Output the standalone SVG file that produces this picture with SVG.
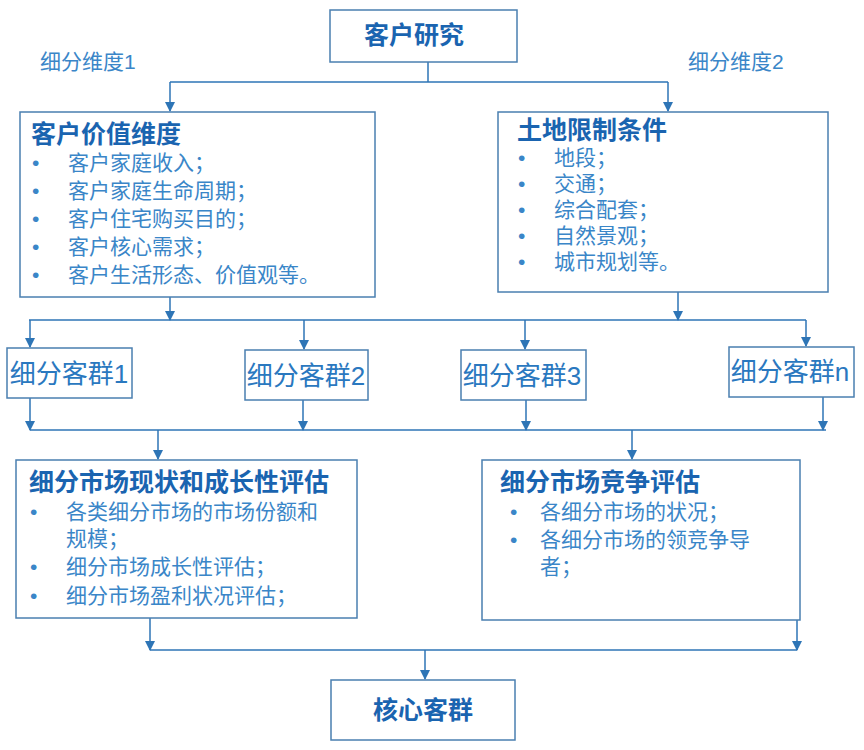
<svg xmlns="http://www.w3.org/2000/svg" width="864" height="750" viewBox="0 0 864 750">
<style>
.b{fill:#fff;stroke:#4a7fb0;stroke-width:1.5}
.t{font-family:"Liberation Sans","Noto Sans CJK SC",sans-serif;fill:#1f6bb5}
.h{font-weight:bold;font-size:25px;fill:#1a64b0}
.i{font-size:21px;fill:#3a86c8}
.s{font-size:26px;fill:#2a78bf}
.c{stroke:#2e75b6;stroke-width:1.5;fill:none}
</style>
<defs><marker id="a" markerWidth="10" markerHeight="10" refX="9" refY="5" orient="auto" markerUnits="userSpaceOnUse"><path d="M0,0L10,5L0,10z" fill="#2e75b6"/></marker></defs>
<rect width="864" height="750" fill="#fff"/>
<g id="connectors">
<path class="c" d="M428,62V82M170,82H668"/>
<path class="c" d="M170,82V111" marker-end="url(#a)"/>
<path class="c" d="M668,82V111" marker-end="url(#a)"/>
<path class="c" d="M170,297V320" marker-end="url(#a)"/>
<path class="c" d="M678,292V320" marker-end="url(#a)"/>
<path class="c" d="M29,320H806"/>
<path class="c" d="M30,320V347" marker-end="url(#a)"/>
<path class="c" d="M304,320V349" marker-end="url(#a)"/>
<path class="c" d="M525,320V349" marker-end="url(#a)"/>
<path class="c" d="M806,320V346" marker-end="url(#a)"/>
<path class="c" d="M30,398V430" marker-end="url(#a)"/>
<path class="c" d="M303,400V430" marker-end="url(#a)"/>
<path class="c" d="M526,400V430" marker-end="url(#a)"/>
<path class="c" d="M823,397V430" marker-end="url(#a)"/>
<path class="c" d="M30,430H826"/>
<path class="c" d="M158,430V459" marker-end="url(#a)"/>
<path class="c" d="M632,430V459" marker-end="url(#a)"/>
<path class="c" d="M150,618V650" marker-end="url(#a)"/>
<path class="c" d="M797,620V650" marker-end="url(#a)"/>
<path class="c" d="M150,650H797"/>
<path class="c" d="M425,650V679" marker-end="url(#a)"/>
</g>
<text class="t i" x="40" y="69">细分维度1</text>
<text class="t i" x="688" y="69">细分维度2</text>
<g id="n0"><rect class="b" x="330" y="10" width="187" height="52"/><text class="t h" x="414" y="44" text-anchor="middle">客户研究</text></g>
<g id="n1"><rect class="b" x="20" y="112" width="355" height="185"/>
<text class="t h" x="31" y="143">客户价值维度</text>
<g class="t i"><text x="32" y="170">•</text><text x="68" y="170">客户家庭收入；</text>
<text x="32" y="198">•</text><text x="68" y="198">客户家庭生命周期；</text>
<text x="32" y="226">•</text><text x="68" y="226">客户住宅购买目的；</text>
<text x="32" y="254">•</text><text x="68" y="254">客户核心需求；</text>
<text x="32" y="282">•</text><text x="68" y="282">客户生活形态、价值观等。</text></g></g>
<g id="n2"><rect class="b" x="498" y="112" width="330" height="180"/>
<text class="t h" x="517" y="139">土地限制条件</text>
<g class="t i"><text x="518" y="165">•</text><text x="554" y="165">地段；</text>
<text x="518" y="191">•</text><text x="554" y="191">交通；</text>
<text x="518" y="217">•</text><text x="554" y="217">综合配套；</text>
<text x="518" y="243">•</text><text x="554" y="243">自然景观；</text>
<text x="518" y="269">•</text><text x="554" y="269">城市规划等。</text></g></g>
<g id="s1"><rect class="b" x="7" y="348" width="125" height="50"/><text class="t s" x="69" y="383" text-anchor="middle">细分客群1</text></g>
<g id="s2"><rect class="b" x="245" y="350" width="123" height="50"/><text class="t s" x="306" y="385" text-anchor="middle">细分客群2</text></g>
<g id="s3"><rect class="b" x="461" y="350" width="125" height="50"/><text class="t s" x="522" y="385" text-anchor="middle">细分客群3</text></g>
<g id="sn"><rect class="b" x="729" y="347" width="125" height="50"/><text class="t s" x="790" y="381" text-anchor="middle">细分客群n</text></g>
<g id="n3"><rect class="b" x="16" y="460" width="341" height="158"/>
<text class="t h" x="29" y="491">细分市场现状和成长性评估</text>
<g class="t i"><text x="30" y="519">•</text><text x="66" y="519">各类细分市场的市场份额和</text>
<text x="66" y="546">规模；</text>
<text x="30" y="574">•</text><text x="66" y="574">细分市场成长性评估；</text>
<text x="30" y="603">•</text><text x="66" y="603">细分市场盈利状况评估；</text></g></g>
<g id="n4"><rect class="b" x="482" y="460" width="318" height="160"/>
<text class="t h" x="500" y="491">细分市场竞争评估</text>
<g class="t i"><text x="510" y="519">•</text><text x="540" y="519">各细分市场的状况；</text>
<text x="510" y="547">•</text><text x="540" y="547">各细分市场的领竞争导</text>
<text x="540" y="574">者；</text></g></g>
<g id="n5"><rect class="b" x="331" y="680" width="184" height="60"/><text class="t h" x="423" y="719" text-anchor="middle">核心客群</text></g>
</svg>
